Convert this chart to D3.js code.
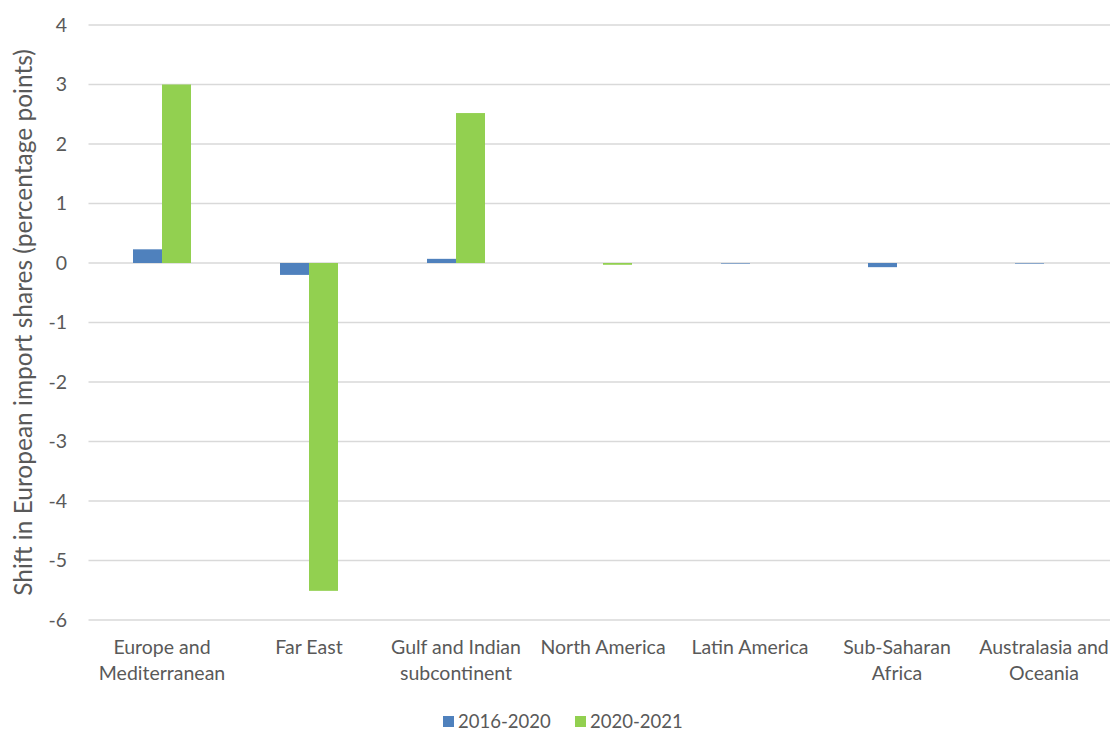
<html>
<head>
<meta charset="utf-8">
<script src="https://cdn.jsdelivr.net/npm/d3@7"></script>
<style>
    body { margin: 0; background: #fff; }
    text { font-family: Lato, "Open Sans", sans-serif; fill: #595959; }
</style>
</head>
<body>
<svg width="1110" height="731"></svg>
<script>
// chart data
var regions = [
    ["Europe and", "Mediterranean"],
    ["Far East"],
    ["Gulf and Indian", "subcontinent"],
    ["North America"],
    ["Latin America"],
    ["Sub-Saharan", "Africa"],
    ["Australasia and", "Oceania"]
];
var seriesNames = ["2016-2020", "2020-2021"];
var shift2016_2020 = [0.23, -0.2, 0.07, 0, -0.01, -0.07, -0.01];
var shift2020_2021 = [3.0, -5.51, 2.52, -0.03, 0, 0, 0];
var yTicks = [4, 3, 2, 1, 0, -1, -2, -3, -4, -5, -6];
var colors = ["#4F81BD", "#92D050"];

var svg = d3.select("svg");
var plotLeft = 88.5, plotRight = 1117.5, plotTop = 25, plotBottom = 620;

var x = d3.scaleBand()
    .domain(d3.range(regions.length))
    .range([plotLeft, plotRight]);

var inner = d3.scaleBand()
    .domain([0, 1])
    .range([0, 58])
    .padding(0);

var y = d3.scaleLinear()
    .domain([-6, 4])
    .range([plotBottom, plotTop]);

/* gridlines */
svg.append("g")
    .selectAll("line")
    .data(yTicks)
    .enter().append("line")
    .attr("x1", plotLeft)
    .attr("x2", 1110)
    .attr("y1", function(d) { return y(d); })
    .attr("y2", function(d) { return y(d); })
    .attr("stroke", "#d9d9d9")
    .attr("stroke-width", 1.3);

/* y tick labels */
svg.append("g")
    .selectAll("text")
    .data(yTicks)
    .enter().append("text")
    .attr("x", 67)
    .attr("y", function(d) { return y(d); })
    .attr("dy", "0.35em")
    .attr("text-anchor", "end")
    .style("font-size", "19.5px")
    .text(function(d) { return d; });

/* bars */
var rows = regions.map(function(r, i) {
    return [shift2016_2020[i], shift2020_2021[i]];
});

var groups = svg.append("g")
    .selectAll("g")
    .data(rows)
    .enter().append("g")
    .attr("transform", function(d, i) {
        return "translate(" + (x(i) + x.bandwidth() / 2 - 29) + ",0)";
    });

groups.selectAll("rect")
    .data(function(d) { return d; })
    .enter().append("rect")
    .attr("x", function(d, j) { return inner(j); })
    .attr("width", inner.bandwidth())
    .attr("y", function(d) { return y(Math.max(0, d)); })
    .attr("height", function(d) { return Math.abs(y(d) - y(0)); })
    .attr("fill", function(d, j) { return colors[j]; });

/* category labels */
var labels = svg.append("g")
    .selectAll("text")
    .data(regions)
    .enter().append("text")
    .attr("text-anchor", "middle")
    .style("font-size", "19.5px")
    .attr("transform", function(d, i) {
        return "translate(" + (x(i) + x.bandwidth() / 2) + ",654)";
    });

labels.selectAll("tspan")
    .data(function(d) { return d; })
    .enter().append("tspan")
    .attr("x", 0)
    .attr("y", function(d, k) { return k * 26; })
    .text(function(d) { return d; });

/* y axis title */
svg.append("text")
    .attr("transform", "translate(32," + ((plotTop + plotBottom) / 2) + ") rotate(-90)")
    .attr("text-anchor", "middle")
    .style("font-size", "24.5px")
    .text("Shift in European import shares (percentage points)");

/* legend */
var legend = svg.append("g")
    .selectAll("g")
    .data(seriesNames)
    .enter().append("g")
    .attr("transform", function(d, i) {
        return "translate(" + (443 + i * 132) + ",716)";
    });

legend.append("rect")
    .attr("width", 11)
    .attr("height", 11)
    .attr("fill", function(d, i) { return colors[i]; });

legend.append("text")
    .attr("x", 15)
    .attr("y", 6)
    .attr("dy", "0.35em")
    .style("font-size", "18.5px")
    .text(function(d) { return d; });
</script>
</body>
</html>
